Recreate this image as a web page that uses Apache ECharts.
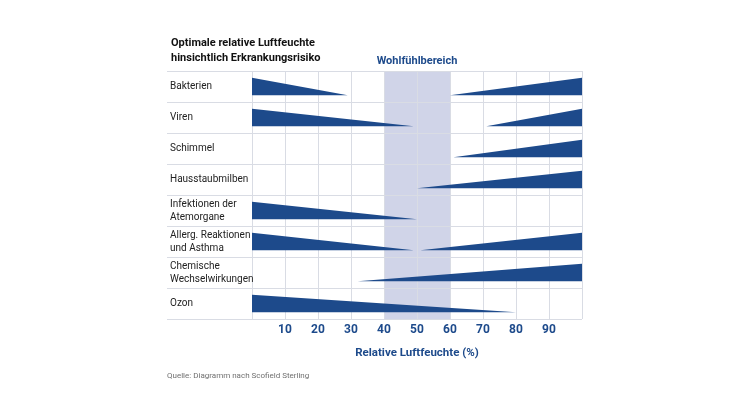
<!DOCTYPE html>
<html><head><meta charset="utf-8">
<script src="https://cdn.jsdelivr.net/npm/echarts@6/dist/echarts.min.js"></script>
<style>html,body{margin:0;padding:0;background:#fff}#c{width:750px;height:417px}</style>
</head><body><div id="c"></div>
<script>
const categories = ['Bakterien','Viren','Schimmel','Hausstaubmilben','Infektionen der\nAtemorgane','Allerg. Reaktionen\nund Asthma','Chemische\nWechselwirkungen','Ozon'];
// risk decreasing from 0 % to this humidity (null = none)
const fallingEnd = [29, 49, null, null, 50, 49, null, 80];
// risk increasing from this humidity to 100 % (null = none)
const risingStart = [60, 71, 61, 50, null, 51, 32, null];
const xTicks = [10,20,30,40,50,60,70,80,90];
const comfortZone = [40, 60];

const wedges = [];
categories.forEach((c,i)=>{
  if (fallingEnd[i] != null) wedges.push([i, 0, fallingEnd[i], 0]);
  if (risingStart[i] != null) wedges.push([i, risingStart[i], 100, 1]);
});

const FONT = 'Roboto,"Open Sans",sans-serif';
const BLUE = '#1d4a8b';
const GRID = '#d9dce4';

const chart = echarts.init(document.getElementById('c'));
chart.setOption({
  animation: false,
  textStyle: {fontFamily: FONT},
  title: {
    text: 'Optimale relative Luftfeuchte\nhinsichtlich Erkrankungsrisiko',
    left: 166, top: 31,
    textStyle: {fontFamily: FONT, fontSize: 11, fontWeight: 'bold', color: '#111', lineHeight: 15}
  },
  graphic: [{
    type: 'text', left: 167, top: 372,
    style: {text: 'Quelle: Diagramm nach Scofield Sterling', fontFamily: FONT, fontSize: 8, fill: '#707070'}
  }],
  grid: {left: 252, right: 168, top: 71, bottom: 98},
  xAxis: {
    type: 'value', min: 0, max: 100, interval: 10,
    axisLine: {show: false}, axisTick: {show: false},
    splitLine: {show: true, lineStyle: {color: GRID, width: 1}},
    axisLabel: {
      margin: 5, fontFamily: FONT, fontSize: 12, fontWeight: 'bold', color: BLUE,
      formatter: v => xTicks.indexOf(v) >= 0 ? String(v) : ''
    },
    name: 'Relative Luftfeuchte (%)', nameLocation: 'middle', nameGap: 28,
    nameTextStyle: {fontFamily: FONT, fontSize: 11.5, fontWeight: 'bold', color: BLUE},
    z: 2
  },
  yAxis: {
    type: 'category', inverse: true, data: categories,
    axisLine: {show: false},
    axisTick: {show: true, length: 85, lineStyle: {color: GRID, width: 1}},
    splitLine: {show: true, lineStyle: {color: GRID, width: 1}},
    axisLabel: {margin: 82, align: 'left', fontFamily: FONT, fontSize: 10, color: '#222', lineHeight: 13},
    z: 2
  },
  series: [{
    type: 'custom', z: 1,
    data: [],
    renderItem: () => ({type: 'group', children: []}),
    markArea: {
      silent: true,
      itemStyle: {color: '#d0d4e8'},
      label: {show: true, position: 'top', distance: 4, color: BLUE, fontFamily: FONT, fontSize: 11, fontWeight: 'bold'},
      data: [[{name: 'Wohlfühlbereich', xAxis: comfortZone[0], y: 71}, {xAxis: comfortZone[1], y: 319}]]
    }
  }, {
    type: 'custom', z: 3,
    data: wedges,
    encode: {x: [1, 2], y: 0},
    renderItem: function (params, api) {
      const row = api.value(0);
      const a = api.coord([api.value(1), row]);
      const b = api.coord([api.value(2), row]);
      const bh = api.size([0, 1])[1];
      const h = bh * 0.56;
      const top = a[1] - h / 2, bot = a[1] + h / 2;
      const pts = api.value(3) === 0
        ? [[a[0], bot], [a[0], top], [b[0], bot]]
        : [[a[0], bot], [b[0], top], [b[0], bot]];
      return {type: 'polygon', shape: {points: pts}, style: {fill: BLUE}};
    }
  }]
});
</script></body></html>
